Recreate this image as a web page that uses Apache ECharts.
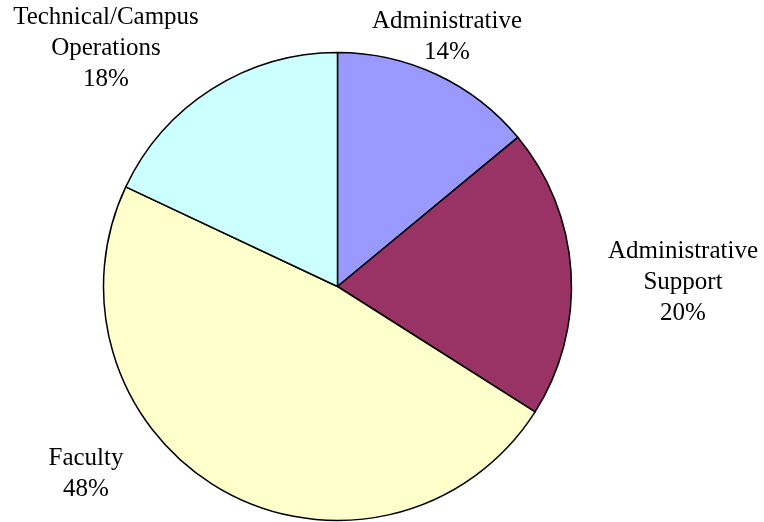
<!DOCTYPE html>
<html>
<head>
<meta charset="utf-8">
<script src="https://cdn.jsdelivr.net/npm/echarts@6/dist/echarts.min.js"></script>
<style>
  html, body { margin: 0; padding: 0; background: #fff; }
  #chart { width: 764px; height: 522px; }
</style>
</head>
<body>
<div id="chart"></div>
<script>
// staff categories, clockwise from 12 o'clock
var categories = ['Administrative', 'Administrative Support', 'Faculty', 'Technical/Campus Operations'];
var labelLines = ['Administrative', 'Administrative\nSupport', 'Faculty', 'Technical/Campus\nOperations'];
var shares = [14, 20, 48, 18];
var colors = ['#9999FF', '#993366', '#FFFFCC', '#CCFFFF'];

// where each label block is centred
var labelCenters = [[447, 37], [683, 282], [86, 474], [106, 48]];

var chart = echarts.init(document.getElementById('chart'));

var data = categories.map(function (name, i) {
  return { name: name, value: shares[i], itemStyle: { color: colors[i] } };
});

chart.setOption({
  animation: false,
  series: [{
    type: 'pie',
    center: [337.5, 286.5],
    radius: 234,
    startAngle: 90,
    clockwise: true,
    itemStyle: { borderColor: '#000', borderWidth: 1.5 },
    label: {
      show: true,
      position: 'outside',
      fontFamily: 'Liberation Serif',
      fontSize: 25,
      lineHeight: 31,
      color: '#000',
      align: 'center',
      overflow: 'none',
      width: 300,
      formatter: function (p) {
        return labelLines[p.dataIndex] + '\n' + Math.round(p.percent) + '%';
      }
    },
    labelLine: { show: false },
    labelLayout: function (p) {
      var c = labelCenters[p.dataIndex];
      return { x: c[0], y: c[1], align: 'center', verticalAlign: 'middle' };
    },
    emphasis: { disabled: true },
    data: data
  }]
});
</script>
</body>
</html>
